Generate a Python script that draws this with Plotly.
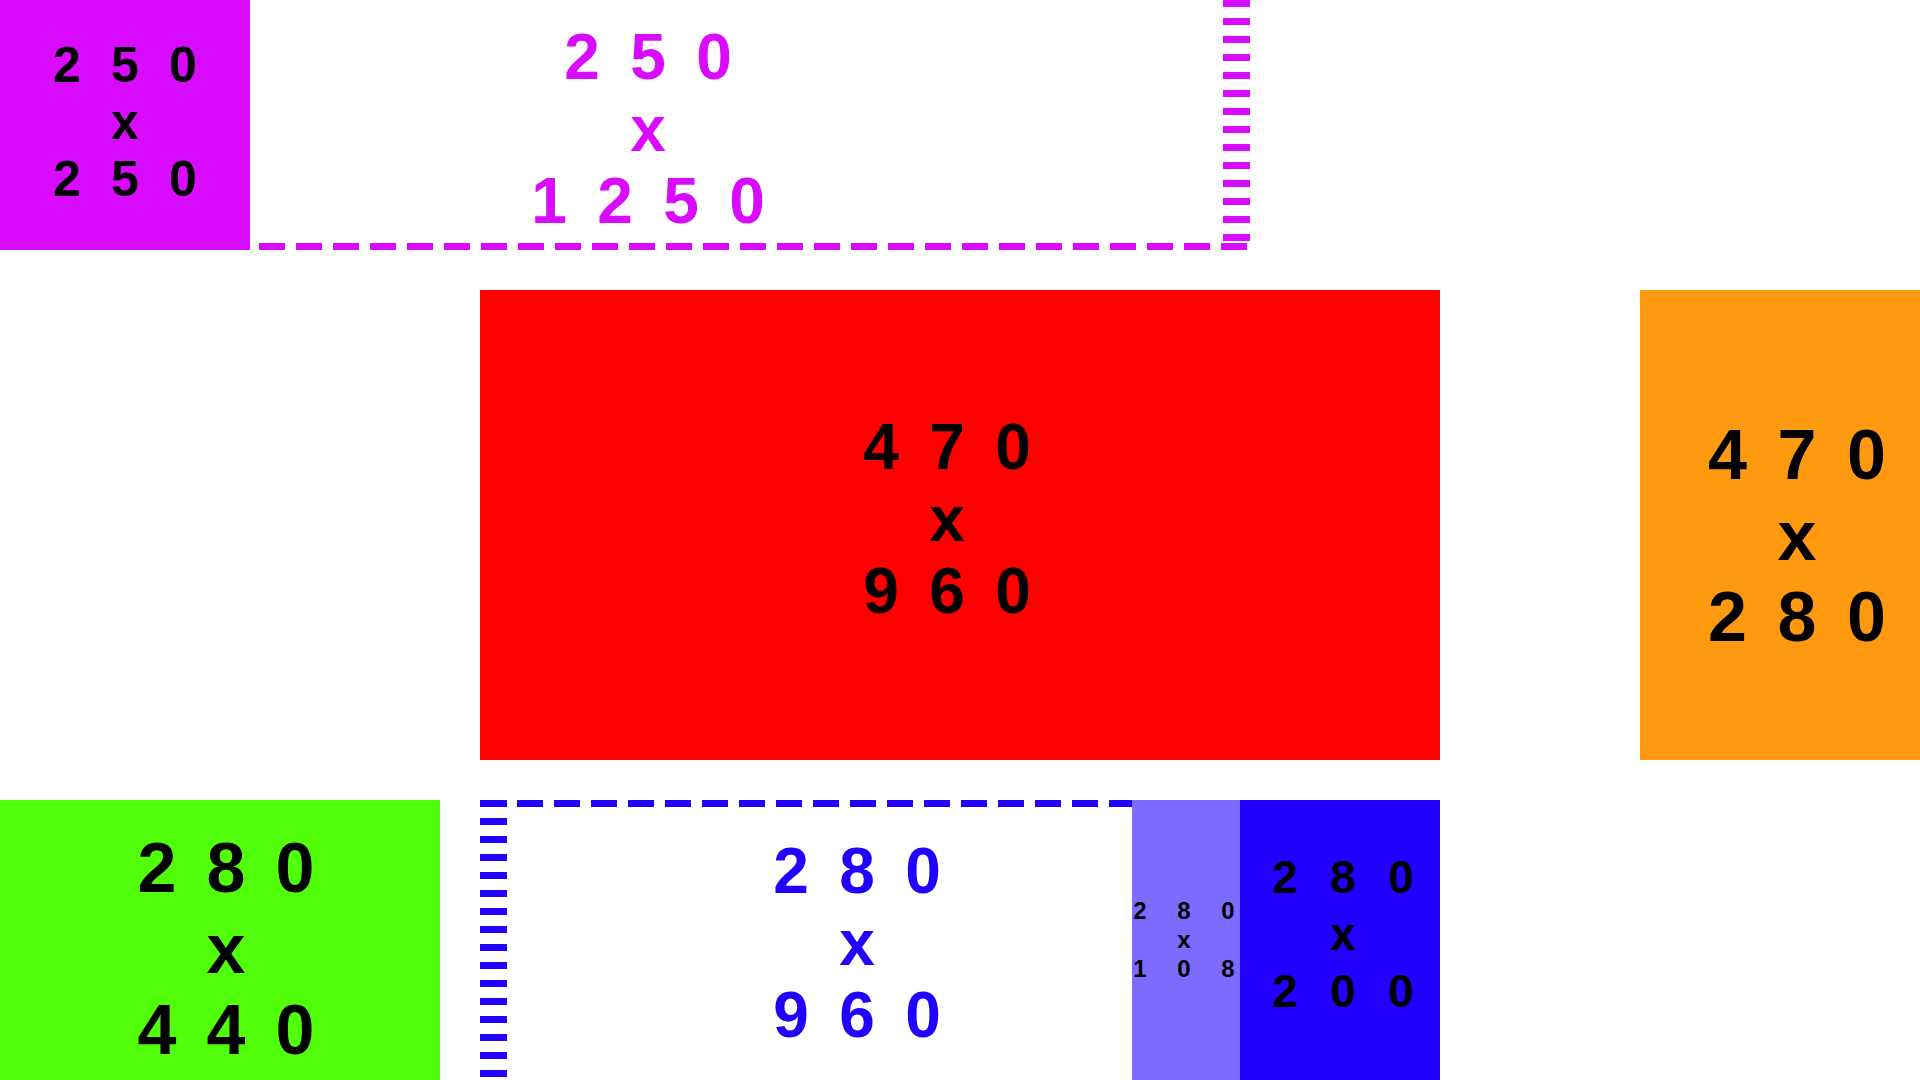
import plotly.graph_objects as go

# canvas size (the boxes are measured in these pixel units)
canvas_w = 1920
canvas_h = 1080

# boxes of the layout: left, top, width, height
box_names = ["top_strip", "purple", "red", "orange", "green", "blue_strip", "lavender", "blue"]
box_left = [0, 0, 480, 1640, 0, 480, 1132, 1240]
box_top = [0, 0, 290, 290, 800, 800, 800, 800]
box_width = [1250, 250, 960, 280, 440, 960, 108, 200]
box_height = [250, 250, 470, 470, 280, 280, 280, 280]

PURPLE = "#D80BFF"
BLUE = "#2200FF"

# look of each box: fill (None = only dashed edges), text colour, font size,
# digit pitch, row pitch, text offset from the box centre
box_style = {
    "top_strip": dict(fill=None, text=PURPLE, size=64, pitch=66, row=72, dx=23, dy=5,
                      edges=["bottom", "right"], edge_color=PURPLE),
    "purple": dict(fill=PURPLE, text="black", size=50, pitch=58, row=57, dx=0, dy=-3),
    "red": dict(fill="#FF0000", text="black", size=64, pitch=66, row=72, dx=-13, dy=-5),
    "orange": dict(fill="#FF990F", text="black", size=70, pitch=69.5, row=81, dx=17, dy=12),
    "green": dict(fill="#52FF0B", text="black", size=70, pitch=69, row=81, dx=6, dy=10),
    "blue_strip": dict(fill=None, text=BLUE, size=64, pitch=66, row=72, dx=-103, dy=4,
                       edges=["top", "left"], edge_color=BLUE),
    "lavender": dict(fill="#7D6BFF", text="black", size=24, pitch=44, row=29, dx=-2, dy=0),
    "blue": dict(fill=BLUE, text="black", size=46, pitch=58, row=57, dx=3, dy=-5),
}

DASH_W = 7      # thickness of the dashes along horizontal edges
HATCH_W = 27    # length of the dashes stacked along vertical edges
INK_SHIFT = 0.08  # digits sit a bit above the text anchor, push them down

fig = go.Figure()

# dashed edges of the outlined strips
for name, l, t, w, h in zip(box_names, box_left, box_top, box_width, box_height):
    st = box_style[name]
    for edge in st.get("edges", []):
        if edge in ("top", "bottom"):
            y = t + DASH_W / 2 if edge == "top" else t + h - DASH_W / 2
            xs, ys = [l, l + w], [y, y]
            line = dict(color=st["edge_color"], width=DASH_W, dash="26px,11px")
        else:
            x = l + HATCH_W / 2 if edge == "left" else l + w - HATCH_W / 2
            xs, ys = [x, x], [t, t + h]
            line = dict(color=st["edge_color"], width=HATCH_W, dash="7px,11px")
        fig.add_trace(go.Scatter(x=xs, y=ys, mode="lines", line=line, hoverinfo="skip"))

# filled boxes
for name, l, t, w, h in zip(box_names, box_left, box_top, box_width, box_height):
    st = box_style[name]
    if st["fill"] is None:
        continue
    fig.add_trace(
        go.Scatter(
            x=[l, l + w, l + w, l, l],
            y=[t, t, t + h, t + h, t],
            mode="lines",
            fill="toself",
            fillcolor=st["fill"],
            line=dict(width=0, color=st["fill"]),
            hoverinfo="skip",
        )
    )

# "height x width" labels, one character at a time so the spacing can be set
for name, l, t, w, h in zip(box_names, box_left, box_top, box_width, box_height):
    st = box_style[name]
    cx = l + w / 2 + st["dx"]
    cy = t + h / 2 + st["dy"] + INK_SHIFT * st["size"]
    xs, ys, chars = [], [], []
    for r, row in enumerate([str(h), "x", str(w)]):
        n = len(row)
        for i, ch in enumerate(row):
            xs.append(cx + (i - (n - 1) / 2) * st["pitch"])
            ys.append(cy + (r - 1) * st["row"])
            chars.append(ch)
    fig.add_trace(
        go.Scatter(
            x=xs,
            y=ys,
            mode="text",
            text=chars,
            textposition="middle center",
            textfont=dict(
                family="Liberation Sans, Arial, sans-serif",
                size=st["size"],
                color=st["text"],
                weight="bold",
            ),
            hoverinfo="skip",
        )
    )

fig.update_layout(
    width=canvas_w,
    height=canvas_h,
    margin=dict(l=0, r=0, t=0, b=0),
    paper_bgcolor="white",
    plot_bgcolor="white",
    showlegend=False,
    xaxis=dict(range=[0, canvas_w], visible=False, fixedrange=True),
    yaxis=dict(range=[canvas_h, 0], visible=False, fixedrange=True),
)

# the page body has a default margin, drop it so the canvas fills the window
fig.write_html(
    "out.html",
    config={"displayModeBar": False},
    post_script="document.body.style.margin='0';document.body.style.overflow='hidden';",
)
